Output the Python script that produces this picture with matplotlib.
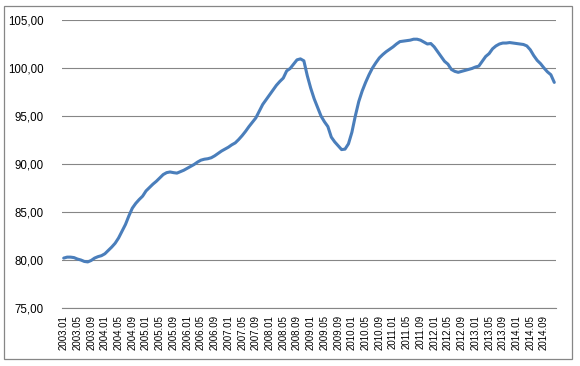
import matplotlib
matplotlib.use("Agg")
import matplotlib.pyplot as plt
from matplotlib.patches import Rectangle

# monthly index values, 2003.01 - 2014.12
values = [
    80.2, 80.3, 80.3, 80.25, 80.1, 80.0, 79.85, 79.8, 79.95, 80.2, 80.35, 80.45,
    80.65, 81.0, 81.35, 81.75, 82.3, 83.0, 83.7, 84.6, 85.4, 85.9, 86.3, 86.65,
    87.2, 87.55, 87.9, 88.2, 88.55, 88.9, 89.1, 89.17, 89.1, 89.05, 89.2, 89.35,
    89.55, 89.75, 89.95, 90.2, 90.4, 90.5, 90.55, 90.65, 90.85, 91.1, 91.35, 91.55,
    91.75, 92.0, 92.2, 92.55, 92.95, 93.4, 93.9, 94.35, 94.8, 95.5, 96.2, 96.7,
    97.2, 97.7, 98.2, 98.6, 98.95, 99.7, 99.95, 100.4, 100.85, 100.95, 100.75, 99.2,
    97.9, 96.8, 95.9, 95.0, 94.4, 93.9, 92.8, 92.3, 91.9, 91.5, 91.55, 92.1,
    93.3, 95.0, 96.5, 97.6, 98.5, 99.3, 100.0, 100.55, 101.05, 101.4, 101.7, 101.95,
    102.2, 102.5, 102.75, 102.8, 102.85, 102.9, 103.0, 103.0, 102.9, 102.7, 102.5, 102.55,
    102.2, 101.7, 101.2, 100.7, 100.4, 99.85, 99.65, 99.55, 99.65, 99.75, 99.85, 99.95,
    100.1, 100.2, 100.7, 101.2, 101.5, 102.0, 102.3, 102.5, 102.6, 102.6, 102.65, 102.6,
    102.55, 102.5, 102.45, 102.3, 101.9, 101.3, 100.8, 100.45, 100.0, 99.6, 99.3, 98.5,
]
months = ["%d.%02d" % (2003 + i // 12, i % 12 + 1) for i in range(len(values))]
tick_idx = list(range(0, len(values), 4))
tick_labels = [months[i] for i in tick_idx]
y_ticks = [75, 80, 85, 90, 95, 100, 105]

plt.rcParams['font.family'] = ['Liberation Sans', 'DejaVu Sans']

fig = plt.figure(figsize=(5.8, 3.66), dpi=100)
fig.patches.append(Rectangle((4 / 580, 1 - 359 / 366), 568 / 580, 353 / 366,
                             transform=fig.transFigure, fill=False,
                             edgecolor='#868686', linewidth=0.9))

ax = fig.add_axes([62 / 580, 1 - 308 / 366, 494 / 580, 288 / 366])
ax.plot(range(len(values)), values, color='#4A7EBB', linewidth=2.2,
        solid_capstyle='round', solid_joinstyle='round')

ax.set_xlim(-0.5, len(values) - 0.5)
ax.set_ylim(75, 105)
ax.set_yticks(y_ticks)
ax.set_yticklabels(["%d,00" % v for v in y_ticks], fontsize=8.3)
ax.set_xticks(tick_idx)
ax.set_xticklabels(tick_labels, rotation=90, fontsize=7)
ax.tick_params(axis='y', length=0, pad=13)
ax.tick_params(axis='x', length=0, pad=5)
ax.grid(axis='y', color='#868686', linewidth=0.8)
ax.set_axisbelow(True)
for s in ['left', 'right', 'top']:
    ax.spines[s].set_visible(False)
ax.spines['bottom'].set_color('#868686')
ax.spines['bottom'].set_linewidth(0.8)

fig.savefig('out.png', dpi=100)
